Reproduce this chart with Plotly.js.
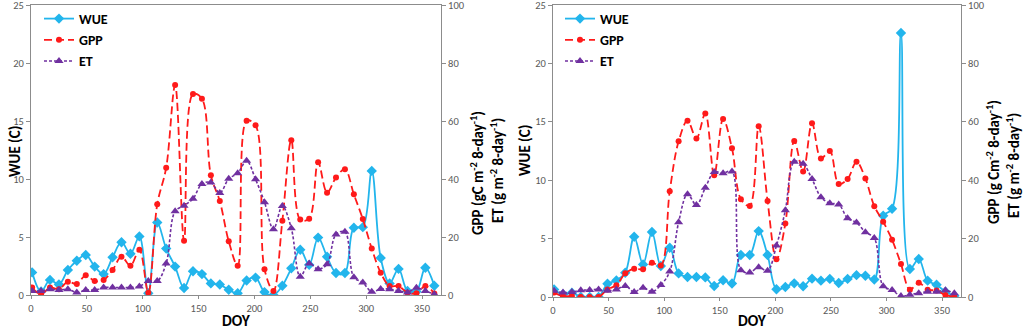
<!DOCTYPE html>
<html>
<head>
<meta charset="utf-8">
<script src="https://cdn.plot.ly/plotly-3.0.1.min.js"></script>
<style>html,body{margin:0;padding:0;background:#fff;}#chart{width:1024px;height:331px;}</style>
</head>
<body>
<div id="chart"></div>
<script>
// Day of year (8-day composites)
var doy = [1,9,17,25,33,41,49,57,65,73,81,89,97,105,113,121,129,137,145,153,161,169,177,185,193,201,209,217,225,233,241,249,257,265,273,281,289,297,305,313,321,329,337,345,353,361];

// Left panel
var wueA = [1.95,0.3,1.3,0.9,2.15,2.95,3.45,2.45,1.8,3.25,4.55,3.55,5.05,0.15,6.25,4.0,2.45,0.6,2.05,1.8,1.0,0.9,0.45,0.15,1.25,1.5,0.25,0.0,0.8,2.3,3.9,2.6,4.95,3.3,1.9,1.9,5.8,5.85,10.7,3.2,1.0,2.25,0.35,0.3,2.35,0.8];
var gppA = [2.6,0.2,2.6,2.0,4.6,3.8,6.8,4.8,5.2,8.6,13.2,10.1,15.6,0.8,31.3,43.9,72.4,18.7,69.3,67.7,41.3,32.4,18.5,10.1,60.1,58.5,8.9,1.4,25.6,53.4,26.0,26.3,45.8,35.3,40.5,43.4,34.7,26.2,16.0,7.7,3.1,3.1,0.8,0.6,3.1,0.5];
var etA  = [1.4,1.4,2.0,1.7,2.0,0.9,1.7,1.7,2.6,2.6,2.6,2.6,2.9,4.8,4.8,10.9,28.9,30.8,33.2,38.3,38.8,35.2,40.1,42.0,46.3,39.9,32.0,22.7,30.7,23.0,6.3,10.9,8.9,10.6,20.9,21.8,6.1,4.3,1.1,2.1,2.0,1.4,0.9,2.5,1.4,0.3];

// Right panel
var wueB = [0.65,0.23,0.37,0.0,0.0,0.0,1.14,1.42,2.08,5.16,2.79,5.56,2.65,4.22,2.02,1.71,1.71,1.68,0.94,1.43,1.15,3.59,3.59,5.64,3.59,0.66,0.85,1.17,0.92,1.57,1.4,1.55,1.2,1.55,1.87,1.82,1.5,6.95,7.55,22.6,2.4,3.25,1.4,1.05,0.45,0.1];
var gppB = [1.5,0.3,0.3,0.0,0.0,0.0,2.6,4.0,8.1,9.7,9.5,11.7,10.8,36.2,53.3,60.4,54.3,62.8,41.7,61.0,50.9,33.5,31.2,58.5,32.9,12.9,25.2,53.4,43.0,59.5,47.4,50.0,38.7,40.4,46.3,40.6,31.1,25.8,19.6,11.3,2.5,4.9,2.5,2.2,0.7,0.05];
var etB  = [2.1,1.5,1.7,2.3,2.4,2.6,2.1,2.6,3.8,1.7,3.2,1.8,4.1,8.7,25.6,35.2,31.5,37.4,42.8,42.4,43.0,9.2,8.4,10.2,9.0,17.6,29.7,46.3,45.6,40.4,34.2,32.1,31.7,27.0,25.5,22.2,20.2,3.7,2.4,0.3,0.8,1.3,1.8,1.8,2.3,1.3];

var seriesNames = ['WUE','GPP','ET'];
var rightTitlesA = ['GPP (gC m<sup>-2</sup> 8-day<sup>-1</sup>)','ET (g m<sup>-2</sup> 8-day<sup>-1</sup>)'];
var rightTitlesB = ['GPP (g Cm<sup>-2</sup> 8-day<sup>-1</sup>)','ET (g m<sup>-2</sup> 8-day<sup>-1</sup>)'];
var xTicks = [0,50,100,150,200,250,300,350];
var yTicksL = [0,5,10,15,20,25];
var yTicksR = [0,20,40,60,80,100];

var FONT = 'Carlito, "Liberation Sans Narrow", "Liberation Sans", Arial, sans-serif';
var cW = '#22B5EC', cG = '#FF1A1A', cE = '#7030A0';
var AX = '#8C8C8C';

function mk(x, y, name, xa, ya, leg) {
  var st = {
    WUE: {line:{color:cW,width:1.8,shape:'spline',smoothing:1}, marker:{symbol:'diamond',size:8,color:cW}},
    GPP: {line:{color:cG,width:1.8,shape:'spline',smoothing:1,dash:'8px,4px'}, marker:{symbol:'circle',size:6,color:cG}},
    ET:  {line:{color:cE,width:1.6,shape:'spline',smoothing:1,dash:'3px,2px'}, marker:{symbol:'triangle-up',size:8,color:cE}}
  }[name];
  return {x:x, y:y, name:name, type:'scatter', mode:'lines+markers', xaxis:xa, yaxis:ya,
          line:st.line, marker:st.marker, legend:leg, showlegend:true};
}

var data = [
  mk(doy, wueA, seriesNames[0], 'x', 'y', 'legend'),
  mk(doy, gppA, seriesNames[1], 'x', 'y2', 'legend'),
  mk(doy, etA,  seriesNames[2], 'x', 'y2', 'legend'),
  mk(doy, wueB, seriesNames[0], 'x2', 'y3', 'legend2'),
  mk(doy, gppB, seriesNames[1], 'x2', 'y4', 'legend2'),
  mk(doy, etB,  seriesNames[2], 'x2', 'y4', 'legend2')
];

var W = 1024, H = 331;
function px(v){return v/W;}
function py(v){return 1 - v/H;}

var tickF = {family:FONT,size:10.5,color:'#595959'};
function xax(dom, anchor) {
  return {domain:dom, anchor:anchor, range:[0,367], tickvals:xTicks, ticktext:xTicks.map(String),
    showline:true, linecolor:AX, linewidth:1, mirror:true, ticks:'outside', ticklen:3, tickcolor:AX,
    showgrid:false, zeroline:false, tickfont:tickF, ticklabeloverflow:'allow'};
}
function yax(dom, anchor, rng, tv, side, overlay) {
  var a = {domain:dom, anchor:anchor, range:rng, tickvals:tv, ticktext:tv.map(String),
    showline:true, linecolor:AX, linewidth:1,
    ticks:'outside', ticklen:4, tickcolor:AX, showgrid:false, zeroline:false,
    tickfont:tickF, side:side, ticklabeloverflow:'allow'};
  if (overlay) a.overlaying = overlay;
  return a;
}

var domA = [py(295), py(5)], domB = [py(297), py(5)];

function ann(x, y, text, angle, size, yanchor) {
  return {xref:'paper', yref:'paper', x:px(x), y:py(y), xanchor:'center', yanchor:yanchor||'middle',
    text:'<b>'+text+'</b>', showarrow:false, textangle:angle, borderpad:0,
    font:{family:FONT, size:size||15, color:'#000'}};
}

var legFont = {family:FONT,size:14,color:'#000',weight:'bold'};
var layout = {
  width:W, height:H, margin:{l:0,r:0,t:0,b:0}, paper_bgcolor:'#fff', plot_bgcolor:'rgba(0,0,0,0)',
  showlegend:true,
  xaxis: xax([px(31), px(441)], 'y'),
  yaxis: yax(domA, 'x', [0,25], yTicksL, 'left'),
  yaxis2: yax(domA, 'x', [0,100], yTicksR, 'right', 'y'),
  xaxis2: xax([px(553), px(961)], 'y3'),
  yaxis3: yax(domB, 'x2', [0,25], yTicksL, 'left'),
  yaxis4: yax(domB, 'x2', [0,100], yTicksR, 'right', 'y3'),
  legend: {x:px(39), y:py(3), xanchor:'left', yanchor:'top', bgcolor:'rgba(0,0,0,0)', itemwidth:30,
           font:legFont, tracegroupgap:0, traceorder:'normal'},
  legend2: {x:px(560), y:py(3), xanchor:'left', yanchor:'top', bgcolor:'rgba(0,0,0,0)', itemwidth:30,
           font:legFont, tracegroupgap:0, traceorder:'normal'},
  annotations: [
    ann(15, 152, 'WUE (C)', -90),
    ann(236, 331, 'DOY', 0, 15.5, 'bottom'),
    ann(477, 173, rightTitlesA[0], -90),
    ann(497, 171, rightTitlesA[1], -90),
    ann(525, 151, 'WUE (C)', -90),
    ann(752, 331, 'DOY', 0, 15.5, 'bottom'),
    ann(993, 162, rightTitlesB[0], -90),
    ann(1013, 166, rightTitlesB[1], -90)
  ]
};

Plotly.newPlot('chart', data, layout, {displayModeBar:false, staticPlot:true});
</script>
</body>
</html>
